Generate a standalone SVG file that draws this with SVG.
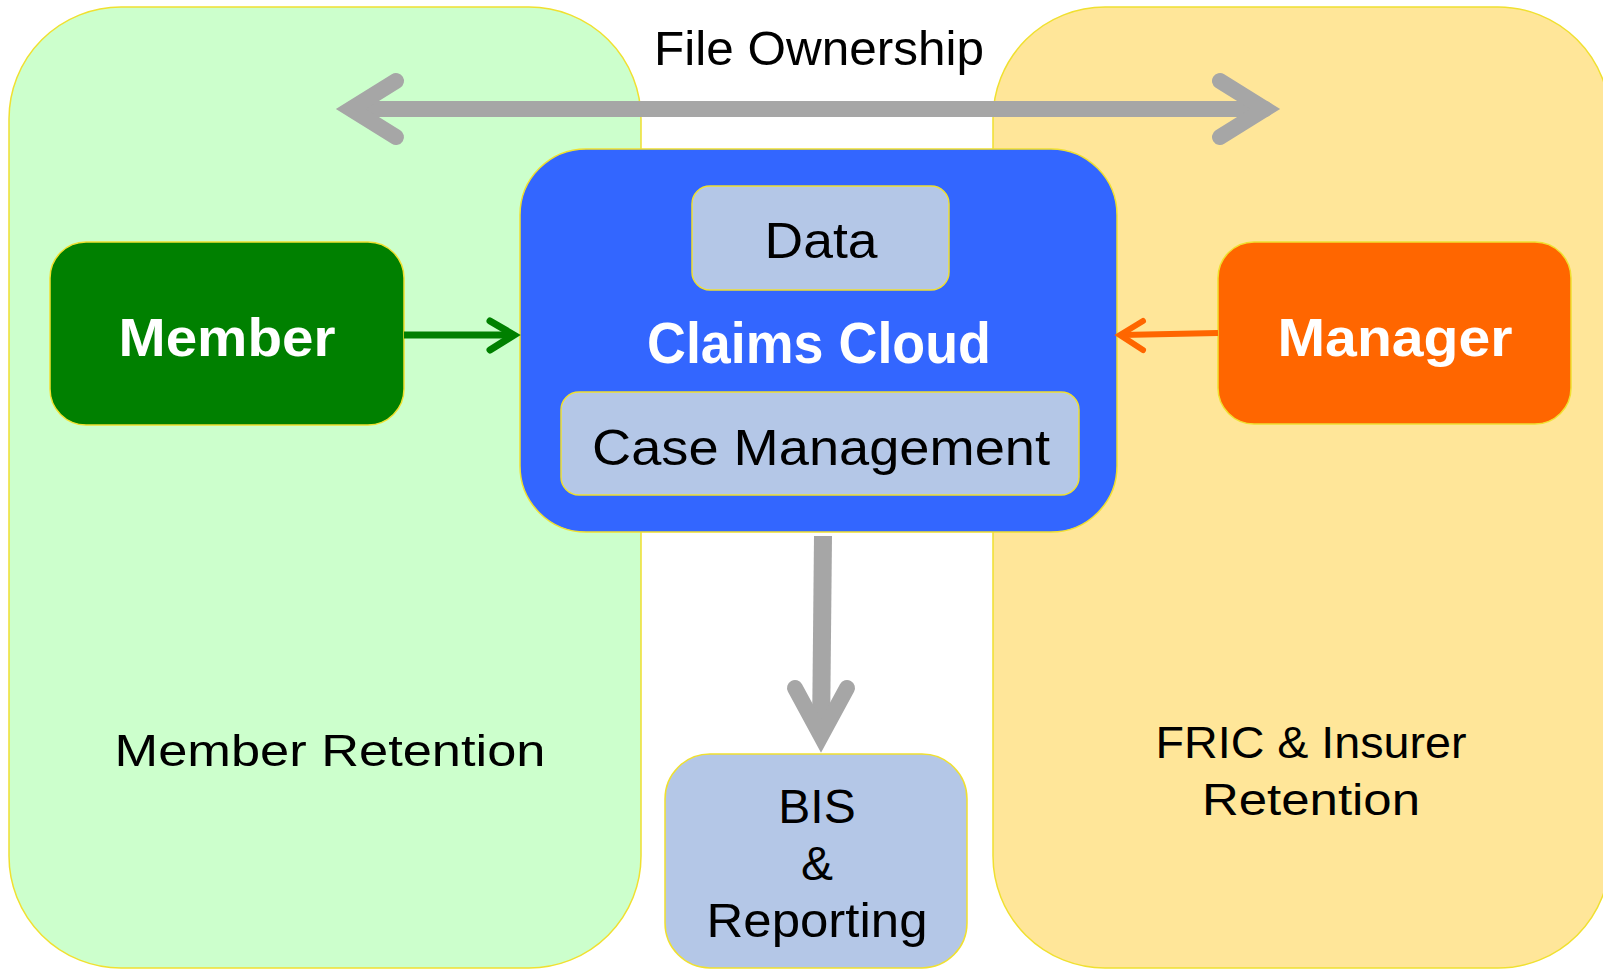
<svg xmlns="http://www.w3.org/2000/svg" width="1603" height="970" viewBox="0 0 1603 970">
<style>
.t{font-family:"Liberation Sans",Arial,sans-serif;fill:#000;text-anchor:middle}
.b{font-family:"Liberation Sans",Arial,sans-serif;font-weight:bold;fill:#fff;text-anchor:middle}
.edge{stroke:#F0E030;stroke-width:1.5}
.gray{fill:none;stroke:#A6A6A6;stroke-width:16;stroke-linecap:round;stroke-linejoin:miter;stroke-miterlimit:10}
</style>
<rect width="1603" height="970" fill="#fff"/>
<g id="member-retention">
<rect class="edge" x="9" y="7" width="632" height="961" rx="112" ry="112" fill="#CCFFCC"/>
<text class="t" x="330" y="766" font-size="45" textLength="431" lengthAdjust="spacingAndGlyphs">Member Retention</text>
</g>
<g id="fric-retention">
<rect class="edge" x="993" y="7" width="617" height="961" rx="112" ry="112" fill="#FFE699"/>
<text class="t" x="1311" y="758" font-size="45" textLength="311" lengthAdjust="spacingAndGlyphs">FRIC &amp; Insurer</text>
<text class="t" x="1311" y="815" font-size="45" textLength="218" lengthAdjust="spacingAndGlyphs">Retention</text>
</g>
<g id="file-ownership-label">
<text class="t" x="819" y="65" font-size="49" textLength="330" lengthAdjust="spacingAndGlyphs">File Ownership</text>
</g>
<g id="claims-cloud">
<rect class="edge" x="520" y="149" width="597" height="383" rx="66" ry="66" fill="#3366FF"/>
<text class="b" x="819" y="363" font-size="58" textLength="344" lengthAdjust="spacingAndGlyphs">Claims Cloud</text>
</g>
<g id="data">
<rect class="edge" x="692" y="186" width="257" height="104" rx="18" ry="18" fill="#B4C7E7"/>
<text class="t" x="821" y="258" font-size="50" textLength="113" lengthAdjust="spacingAndGlyphs">Data</text>
</g>
<g id="case-management">
<rect class="edge" x="561" y="392" width="518" height="103" rx="18" ry="18" fill="#B4C7E7"/>
<text class="t" x="821" y="465" font-size="50" textLength="458" lengthAdjust="spacingAndGlyphs">Case Management</text>
</g>
<g id="member">
<rect class="edge" x="50" y="242" width="354" height="183" rx="36" ry="36" fill="#008000"/>
<text class="b" x="227" y="356" font-size="54" textLength="217" lengthAdjust="spacingAndGlyphs">Member</text>
</g>
<g id="manager">
<rect class="edge" x="1218" y="242" width="353" height="182" rx="36" ry="36" fill="#FF6600"/>
<text class="b" x="1395" y="356" font-size="54" textLength="235" lengthAdjust="spacingAndGlyphs">Manager</text>
</g>
<g id="bis-reporting">
<rect class="edge" x="665" y="754" width="302" height="214" rx="45" ry="45" fill="#B4C7E7"/>
<text class="t" x="817" y="823" font-size="48">BIS</text>
<text class="t" x="817" y="880" font-size="48">&amp;</text>
<text class="t" x="817" y="937" font-size="48" textLength="221" lengthAdjust="spacingAndGlyphs">Reporting</text>
</g>
<g id="connectors">
<path class="gray" d="M352,109 H1265"/>
<path class="gray" d="M396,81 L351,109 L396,137"/>
<path class="gray" d="M1220,81 L1265,109 L1220,137"/>
<path class="gray" style="stroke-linecap:butt;stroke-width:18" d="M823,536 L821,735"/>
<path class="gray" d="M795,688 L821,736 L847,688"/>
<path d="M404,335 H512" stroke="#008000" stroke-width="7" fill="none"/>
<path d="M490,321 L514,335 L490,350" stroke="#008000" stroke-width="7" fill="none" stroke-linecap="round" stroke-linejoin="miter"/>
<path d="M1218,333 L1122,335" stroke="#FF6600" stroke-width="6" fill="none"/>
<path d="M1143,321 L1120,335 L1143,350" stroke="#FF6600" stroke-width="6" fill="none" stroke-linecap="round" stroke-linejoin="miter"/>
</g>
</svg>
